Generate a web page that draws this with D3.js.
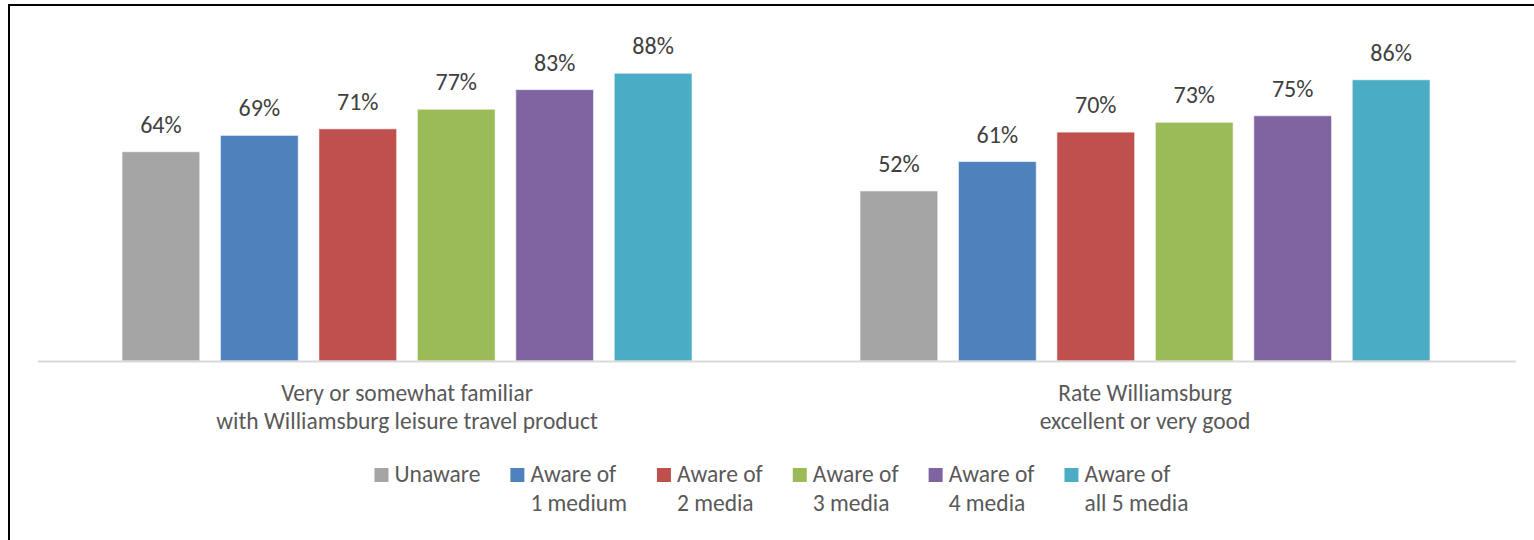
<!DOCTYPE html>
<html>
<head>
<meta charset="utf-8">
<script src="https://d3js.org/d3.v7.min.js"></script>
<style>
  body { margin: 0; background: #fff; }
  text { font-family: Calibri, Carlito, Lato, sans-serif; }
</style>
</head>
<body>
<div id="chart"></div>
<script>
const categories = ["Very or somewhat familiar\nwith Williamsburg leisure travel product", "Rate Williamsburg\nexcellent or very good"]
const seriesNames = ["Unaware", "Aware of\n1 medium", "Aware of\n2 media", "Aware of\n3 media", "Aware of\n4 media", "Aware of\nall 5 media"]
const seriesColors = ["#a5a5a5", "#4f81bd", "#c0504d", "#9bbb59", "#8064a2", "#4bacc6"]
const unaware = [64, 52]
const aware1 = [69, 61]
const aware2 = [71, 70]
const aware3 = [77, 73]
const aware4 = [83, 75]
const aware5 = [88, 86]
const seriesValues = [unaware, aware1, aware2, aware3, aware4, aware5]

const width = 1534, height = 540
const plot = {left: 38, right: 1516, bottom: 361, top: 34}

const svg = d3.select("#chart")
    .append("svg")
        .attr("width", width)
        .attr("height", height)

// outer frame (only top and left edges show in the crop)
svg.append("path")
    .attr("d", `M9,${height + 5}V5H${width + 5}`)
    .attr("fill", "none")
    .attr("stroke", "#000")
    .attr("stroke-width", 2)

const x0 = d3.scaleBand()
    .domain(categories)
    .range([plot.left, 1514])

const x1 = d3.scaleBand()
    .domain(seriesNames)
    .range([84, 654])
    .paddingInner(0.21)

const y = d3.scaleLinear()
    .domain([0, 100])
    .range([plot.bottom, plot.top])

const rows = []
categories.forEach((c, ci) => {
    seriesNames.forEach((s, si) => {
        rows.push({cat: c, series: s, value: seriesValues[si][ci], color: seriesColors[si]})
    })
})

const groups = svg.append("g")
    .selectAll("g")
    .data(rows)
    .enter()
    .append("g")
        .attr("transform", d => `translate(${x0(d.cat)},0)`)

groups.append("rect")
    .attr("x", d => x1(d.series))
    .attr("y", d => y(d.value))
    .attr("width", x1.bandwidth())
    .attr("height", d => y(0) - y(d.value))
    .attr("fill", d => d.color)
    .attr("stroke", "#fff")
    .attr("stroke-opacity", 0.6)
    .attr("stroke-width", 1)

groups.append("text")
    .attr("x", d => x1(d.series) + x1.bandwidth() / 2)
    .attr("y", d => y(d.value) - 19)
    .attr("text-anchor", "middle")
    .attr("fill", "#404040")
    .style("font-size", "24px")
    .text(d => d.value + "%")

// baseline
svg.append("line")
    .attr("x1", plot.left)
    .attr("x2", plot.right)
    .attr("y1", plot.bottom + 0.5)
    .attr("y2", plot.bottom + 0.5)
    .attr("stroke", "#d9d9d9")
    .attr("stroke-width", 2)

// category labels
const catLabels = svg.append("g")
    .selectAll("text")
    .data(categories)
    .enter()
    .append("text")
        .attr("text-anchor", "middle")
        .attr("fill", "#595959")
        .style("font-size", "23.5px")

catLabels.selectAll("tspan")
    .data(d => d.split("\n").map(line => ({line, cat: d})))
    .enter()
    .append("tspan")
        .attr("x", d => x0(d.cat) + x0.bandwidth() / 2)
        .attr("y", (d, i) => 401 + i * 28)
        .text(d => d.line)

// legend
const legend = svg.append("g")
let lx = 0
seriesNames.forEach((s, i) => {
    const item = legend.append("g").attr("transform", `translate(${lx},0)`)
    item.append("rect")
        .attr("x", 0)
        .attr("y", 468)
        .attr("width", 14)
        .attr("height", 14)
        .attr("fill", seriesColors[i])
    const t = item.append("text")
        .attr("fill", "#595959")
        .style("font-size", "23.5px")
    s.split("\n").forEach((line, li) => {
        t.append("tspan")
            .attr("x", 20)
            .attr("y", 482 + li * 29)
            .text(line)
    })
    let w = 0
    t.selectAll("tspan").each(function() { w = Math.max(w, this.getComputedTextLength()) })
    lx += 20 + w + (i < seriesNames.length - 1 ? 30 : 0)
})
legend.attr("transform", `translate(${781.5 - lx / 2},0)`)
</script>
</body>
</html>
